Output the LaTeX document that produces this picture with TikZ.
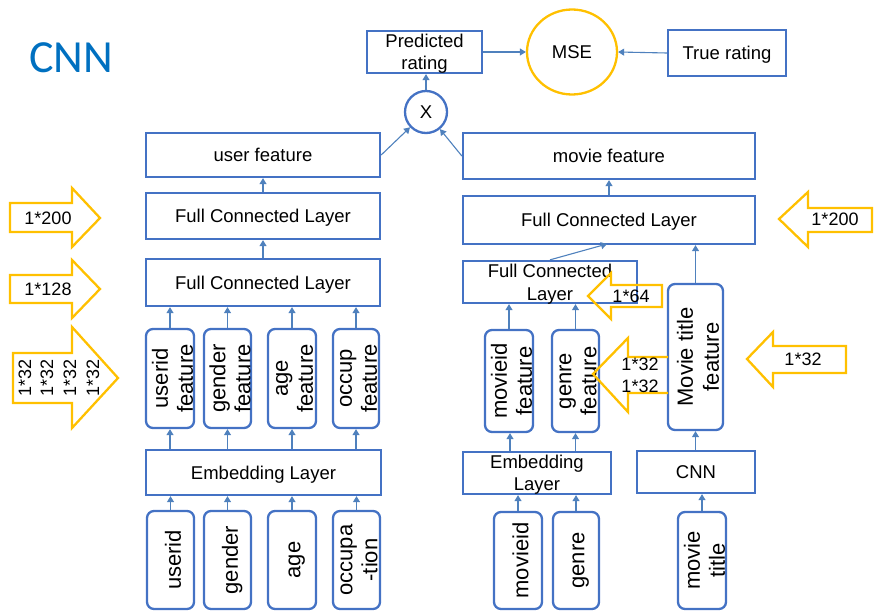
\documentclass[tikz,border=0pt]{standalone}
\usepackage{fontspec}
\setmainfont{Liberation Sans}
\newfontfamily\carlito{Carlito}
\usetikzlibrary{shapes.geometric,arrows.meta}
\definecolor{boxblue}{RGB}{68,114,196}
\definecolor{lineblue}{RGB}{79,129,189}
\definecolor{orng}{RGB}{255,192,0}
\definecolor{titleblue}{RGB}{0,112,192}
\begin{document}
\begin{tikzpicture}[x=1pt,y=-1pt,
  box/.style={draw=boxblue, line width=2.3pt, inner sep=0pt, align=center, text depth=0pt, font=\fontsize{18.5}{21.5}\selectfont},
  rbox/.style={box, rounded corners=7pt},
  vtext/.style={xshift=2.5pt, rotate=90, inner sep=0pt, align=center, text depth=0pt, font=\fontsize{22}{25}\selectfont},
  conn/.style={draw=lineblue, line width=1.1pt, -{Triangle[width=7pt,length=6pt]}},
  oarr/.style={draw=orng, line width=2.3pt, line join=miter},
  olab/.style={inner sep=0pt, font=\fontsize{18}{22}\selectfont},
]
\useasboundingbox (0,0) rectangle (874,612);

% title
\node[anchor=base, inner sep=0pt, font=\carlito\fontsize{46}{50}\selectfont, text=titleblue] (title) at (71,73) {CNN};

% top
\node[box, minimum width=115pt, minimum height=42pt] (pred) at (424.5,52) {Predicted\\rating};
\node[ellipse, draw=orng, line width=2.3pt, minimum width=90pt, minimum height=85pt, inner sep=0pt, font=\fontsize{18.5}{21.5}\selectfont] (mse) at (572,52) {MSE};
\node[box, minimum width=118pt, minimum height=46pt] (truer) at (727,53) {True rating};
\node[circle, draw=boxblue, line width=2.3pt, minimum size=42pt, inner sep=0pt, font=\fontsize{18.5}{21.5}\selectfont] (xnode) at (426,112) {X};

% left column
\node[box, minimum width=234pt, minimum height=44pt] (ufeat) at (263,155) {user feature};
\node[box, minimum width=234pt, minimum height=46pt] (fc1L) at (263,216) {Full Connected Layer};
\node[box, minimum width=234pt, minimum height=47pt] (fc2L) at (263,282.5) {Full Connected Layer};

\node[rbox, minimum width=48pt, minimum height=99pt] (uidf) at (170,378.5) {};
\node[vtext] (uidft) at (uidf) {userid\\feature};
\node[rbox, minimum width=47pt, minimum height=99pt] (genf) at (227.5,378.5) {};
\node[vtext] (genft) at (genf) {gender\\feature};
\node[rbox, minimum width=48pt, minimum height=99pt] (agef) at (292,378.5) {};
\node[vtext] (ageft) at (agef) {age\\feature};
\node[rbox, minimum width=46pt, minimum height=99pt] (occf) at (356,378.5) {};
\node[vtext] (occft) at (occf) {occup\\feature};

\node[box, minimum width=235pt, minimum height=45pt] (embL) at (263.5,472.5) {Embedding Layer};

\node[rbox, minimum width=47pt, minimum height=98pt] (uidi) at (170.5,560) {};
\node[vtext] (uidit) at (uidi) {userid};
\node[rbox, minimum width=47pt, minimum height=98pt] (geni) at (227.5,560) {};
\node[vtext] (genit) at (geni) {gender};
\node[rbox, minimum width=48pt, minimum height=98pt] (agei) at (292,560) {};
\node[vtext] (ageit) at (agei) {age};
\node[rbox, minimum width=47pt, minimum height=98pt] (occi) at (356.5,560) {};
\node[vtext] (occit) at (occi) {occupa\\-tion};

% right column
\node[box, minimum width=292pt, minimum height=46pt] (mfeat) at (609,156) {movie feature};
\node[box, minimum width=292pt, minimum height=48pt] (fcR) at (609,220) {Full Connected Layer};
\node[box, minimum width=174pt, minimum height=42pt, font=\fontsize{18.5}{23}\selectfont] (fcS) at (550,282) {Full Connected\\Layer};

\node[rbox, minimum width=48pt, minimum height=102pt] (midf) at (509,381) {};
\node[vtext] (midft) at (midf) {movieid\\feature};
\node[rbox, minimum width=47pt, minimum height=102pt] (gnrf) at (575.5,381) {};
\node[vtext] (gnrft) at (gnrf) {genre\\feature};
\node[rbox, minimum width=55pt, minimum height=146pt] (mtf) at (695.5,357) {};
\node[vtext, font=\fontsize{22}{26}\selectfont] (mtft) at (mtf) {Movie title\\feature};

\node[box, minimum width=148pt, minimum height=42pt] (embR) at (537,473) {Embedding\\Layer};
\node[box, minimum width=118pt, minimum height=42pt] (cnn) at (696,472) {CNN};

\node[rbox, minimum width=48pt, minimum height=97pt] (midi) at (518,560.5) {};
\node[vtext] (midit) at (midi) {movieid};
\node[rbox, minimum width=46pt, minimum height=97pt] (gnri) at (576,560.5) {};
\node[vtext] (gnrit) at (gnri) {genre};
\node[rbox, minimum width=48pt, minimum height=97pt] (mti) at (702,560.5) {};
\node[vtext] (mtit) at (mti) {movie\\title};

% connectors top
\draw[conn] (ufeat.east) -- (xnode);
\draw[conn] (mfeat.west) -- (xnode);
\draw[conn] (xnode.north) -- (xnode.north |- pred.south);
\draw[conn] (pred.east) -- (mse.west);
\draw[conn] (truer.west) -- (mse.east);

% connectors left
\draw[conn] (fc1L.north) -- (ufeat.south);
\draw[conn] (fc2L.north) -- (fc1L.south);
\foreach \n in {uidf,genf,agef,occf}{
  \draw[conn] (\n.north) -- (\n.north |- fc2L.south);
  \draw[conn] (\n.south |- embL.north) -- (\n.south);
}
\draw[conn] (uidi.north) -- (uidi.north |- embL.south);
\draw[conn] (geni.north) -- (geni.north |- embL.south);
\draw[conn] (agei.north) -- (agei.north |- embL.south);
\draw[conn] (occi.north) -- (occi.north |- embL.south);

% connectors right
\draw[conn] (fcR.north) -- (mfeat.south);
\coordinate (fcRin) at (607,244);
\draw[conn] (fcS.north) -- (fcRin);
\draw[conn] (mtf.north) -- (mtf.north |- fcR.south);
\draw[conn] (midf.north) -- (midf.north |- fcS.south);
\draw[conn] (gnrf.north) -- (gnrf.north |- fcS.south);
\draw[conn] ([xshift=1pt]midf.south |- embR.north) -- ([xshift=1pt]midf.south);
\draw[conn] (gnrf.south |- embR.north) -- (gnrf.south);
\draw[conn] (mtf.south |- cnn.north) -- (mtf.south);
\draw[conn] (midi.north) -- (midi.north |- embR.south);
\draw[conn] (gnri.north) -- (gnri.north |- embR.south);
\draw[conn] (mti.north) -- (mti.north |- cnn.south);

% orange arrows left
\draw[oarr] (10,203) -- (72,203) -- (72,188) -- (100,218) -- (72,247) -- (72,232) -- (10,232) -- cycle;
\node[olab] (a200L) at (48,218) {1*200};
\draw[oarr] (10,275) -- (72,275) -- (72,260) -- (100,289) -- (72,318) -- (72,303) -- (10,303) -- cycle;
\node[olab] (a128L) at (48,289) {1*128};
\draw[oarr] (13,353) -- (72,353) -- (72,327) -- (118,378) -- (72,428) -- (72,403) -- (13,403) -- cycle;
\node[olab, rotate=90] (a32a) at (25,378) {1*32};
\node[olab, rotate=90] (a32b) at (47,378) {1*32};
\node[olab, rotate=90] (a32c) at (70,378) {1*32};
\node[olab, rotate=90] (a32d) at (93,378) {1*32};

% orange arrows right
\draw[oarr] (872,208) -- (808,208) -- (808,192) -- (779,219) -- (808,247) -- (808,232) -- (872,232) -- cycle;
\node[olab] (a200R) at (835,219) {1*200};
\draw[oarr] (662,285) -- (611,285) -- (611,273) -- (588,296) -- (611,319) -- (611,307) -- (662,307) -- cycle;
\node[olab] (a64) at (631,296) {1*64};
\draw[oarr] (668,357) -- (628,357) -- (628,338) -- (593,374) -- (628,412) -- (628,393) -- (668,393);
\node[olab] (a32e) at (640,364) {1*32};
\node[olab] (a32f) at (640,386) {1*32};
\draw[oarr] (846,346) -- (773,346) -- (773,332) -- (747,359) -- (773,387) -- (773,373) -- (846,373) -- cycle;
\node[olab] (a32R) at (803,359) {1*32};
\end{tikzpicture}
\end{document}
